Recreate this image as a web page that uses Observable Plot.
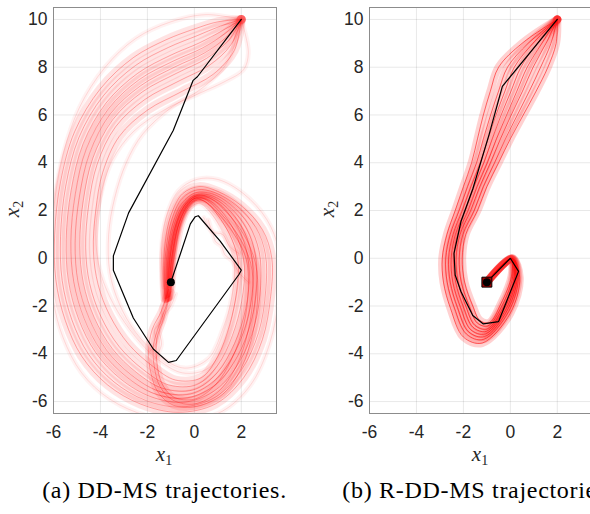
<!DOCTYPE html>
<html><head><meta charset="utf-8">
<script src="https://cdn.jsdelivr.net/npm/d3@7"></script>
<script src="https://cdn.jsdelivr.net/npm/@observablehq/plot@0.6"></script>
<style>
html,body{margin:0;padding:0;background:#fff;overflow:hidden;width:590px;height:514px;}
#root{position:relative;width:590px;height:514px;overflow:hidden;background:#fff;}
.panel{position:absolute;top:0;width:290px;height:453px;}
.lab{position:absolute;font-family:"Liberation Serif",serif;font-style:italic;font-size:21px;color:#262626;line-height:1;white-space:nowrap;}
.lab sub{font-style:normal;font-size:14px;vertical-align:-4px;}
.cap{position:absolute;font-family:"Liberation Serif",serif;font-size:24px;letter-spacing:0.7px;color:#000;white-space:nowrap;line-height:26px;top:477px;}
</style></head><body><div id="root"></div>
<script>
// ---- axis ticks ----
const xTicks = [-6, -4, -2, 0, 2];
const yTicks = [-6, -4, -2, 0, 2, 4, 6, 8, 10];
const target = [[-1, -1]];

// ---- (a) DD-MS: nominal (black) trajectory ----
const ddmsNominal = [[2,10],[0.13,7.6],[-0.05,7.45],[-0.9,5.35],[-2.8,1.9],[-3.45,0.1],[-3.45,-0.5],[-2.6,-2.5],[-1.75,-3.8],[-1.1,-4.36],[-0.77,-4.28],[1.9,-0.68],[2.0,-0.5],[1.1,0.72],[0.17,1.78],[0.04,1.74],[-0.17,1.44],[-0.6,0.17],[-1,-1]];

// ---- (a) DD-MS: sampled trajectories (red bundle, inner -> outer) ----
const ddmsTrajectories = [
 [[2,10],[1.7,8.7],[0.8,7.7],[-0.5,7.0],[-2,6.2],[-3.2,5.1],[-3.9,3.6],[-4.2,2.0],[-4.3,0.3],[-4.1,-1.1],[-3.6,-2.4],[-2.8,-3.6],[-1.8,-4.5],[-0.8,-5.1],[0.3,-5.0],[1.0,-4.1],[1.5,-2.8],[1.8,-1.4],[1.85,0],[1.5,1.0],[1.0,1.8],[0.5,2.35],[0.15,2.45],[-0.25,2.15],[-0.6,1.4],[-0.8,0.4],[-0.95,-0.6],[-1.0,-1.3],[-1.05,-1.6]],
 [[2,10],[1.56,8.94],[0.64,8.08],[-0.64,7.43],[-2.12,6.64],[-3.36,5.5],[-4.14,3.94],[-4.5,2.24],[-4.63,0.44],[-4.46,-1.06],[-3.98,-2.44],[-3.2,-3.7],[-2.18,-4.66],[-1.1,-5.3],[0.1,-5.29],[0.98,-4.5],[1.62,-3.24],[2.02,-1.8],[2.13,-0.32],[1.86,0.8],[1.38,1.68],[0.8,2.32],[0.32,2.52],[-0.16,2.32],[-0.58,1.66],[-0.84,0.68],[-1.01,-0.36],[-1.06,-1.16],[-1.09,-1.62]],
 [[2,10],[1.46,9.12],[0.52,8.37],[-0.75,7.75],[-2.21,6.97],[-3.48,5.8],[-4.32,4.2],[-4.73,2.42],[-4.88,0.55],[-4.73,-1.03],[-4.27,-2.47],[-3.5,-3.78],[-2.47,-4.78],[-1.33,-5.45],[-0.05,-5.51],[0.97,-4.8],[1.71,-3.57],[2.19,-2.1],[2.34,-0.56],[2.13,0.65],[1.67,1.59],[1.03,2.3],[0.45,2.57],[-0.09,2.45],[-0.57,1.86],[-0.87,0.89],[-1.06,-0.18],[-1.1,-1.06],[-1.12,-1.64]],
 [[2,10],[1.37,9.26],[0.42,8.59],[-0.83,8.01],[-2.28,7.23],[-3.58,6.04],[-4.46,4.4],[-4.9,2.56],[-5.08,0.63],[-4.95,-1.01],[-4.49,-2.49],[-3.74,-3.84],[-2.69,-4.88],[-1.5,-5.57],[-0.17,-5.68],[0.95,-5.04],[1.78,-3.83],[2.32,-2.34],[2.51,-0.75],[2.35,0.53],[1.89,1.52],[1.2,2.28],[0.55,2.61],[-0.04,2.55],[-0.55,2.01],[-0.89,1.06],[-1.09,-0.04],[-1.14,-0.97],[-1.14,-1.65]],
 [[2,10],[1.29,9.4],[0.34,8.8],[-0.91,8.25],[-2.35,7.48],[-3.66,6.26],[-4.6,4.59],[-5.07,2.7],[-5.26,0.71],[-5.14,-0.98],[-4.7,-2.52],[-3.96,-3.89],[-2.9,-4.96],[-1.67,-5.68],[-0.28,-5.84],[0.94,-5.26],[1.85,-4.08],[2.44,-2.56],[2.66,-0.93],[2.54,0.42],[2.1,1.45],[1.37,2.26],[0.64,2.65],[0.01,2.64],[-0.54,2.15],[-0.92,1.21],[-1.12,0.1],[-1.17,-0.89],[-1.17,-1.66]],
 [[2,10],[1.21,9.54],[0.24,9.03],[-0.99,8.51],[-2.42,7.74],[-3.76,6.5],[-4.74,4.79],[-5.25,2.84],[-5.46,0.79],[-5.36,-0.96],[-4.93,-2.54],[-4.2,-3.95],[-3.13,-5.06],[-1.85,-5.8],[-0.4,-6.02],[0.93,-5.5],[1.92,-4.34],[2.57,-2.8],[2.83,-1.12],[2.76,0.3],[2.33,1.38],[1.55,2.25],[0.75,2.7],[0.07,2.75],[-0.53,2.31],[-0.94,1.38],[-1.16,0.24],[-1.21,-0.81],[-1.19,-1.68]],
 [[2,10],[1.11,9.72],[0.12,9.32],[-1.1,8.83],[-2.51,8.07],[-3.88,6.8],[-4.92,5.05],[-5.48,3.02],[-5.7,0.9],[-5.63,-0.93],[-5.22,-2.57],[-4.5,-4.03],[-3.42,-5.18],[-2.08,-5.95],[-0.55,-6.23],[0.92,-5.8],[2.01,-4.67],[2.74,-3.1],[3.04,-1.36],[3.03,0.15],[2.62,1.29],[1.78,2.22],[0.87,2.75],[0.13,2.87],[-0.52,2.51],[-0.97,1.59],[-1.2,0.42],[-1.26,-0.7],[-1.22,-1.69]],
 [[2,10],[1.0,9.9],[0,9.6],[-1.2,9.15],[-2.6,8.4],[-4.0,7.1],[-5.1,5.3],[-5.7,3.2],[-5.95,1.0],[-5.9,-0.9],[-5.5,-2.6],[-4.8,-4.1],[-3.7,-5.3],[-2.3,-6.1],[-0.7,-6.45],[0.9,-6.1],[2.1,-5.0],[2.9,-3.4],[3.25,-1.6],[3.3,0.0],[2.9,1.2],[2.0,2.2],[1.0,2.8],[0.2,3.0],[-0.5,2.7],[-1.0,1.8],[-1.25,0.6],[-1.3,-0.6],[-1.25,-1.7]]
];

// ---- (a) DD-MS: trajectories that overshoot the target and loop again ----
const ddmsSecondLoop = [
 [[-1.0,-1.2],[-1.2,-2.0],[-1.5,-2.8],[-1.75,-3.7],[-1.7,-4.6],[-1.45,-5.4],[-0.9,-5.95],[0,-6.1],[1.0,-5.6],[1.8,-4.5],[2.3,-3.0],[2.5,-1.5],[2.4,-0.2],[1.9,0.9],[1.2,1.8],[0.5,2.45],[0.1,2.55],[-0.3,2.2],[-0.7,1.3],[-0.9,0.2],[-1.0,-0.9]],
 [[-1.1,-1.3],[-1.4,-2.2],[-1.8,-3.0],[-1.95,-3.9],[-1.85,-4.8],[-1.55,-5.6],[-0.9,-6.15],[0.1,-6.2],[1.2,-5.7],[2.0,-4.6],[2.5,-3.1],[2.7,-1.6],[2.6,-0.2],[2.1,1.0],[1.4,1.9],[0.7,2.5],[0.2,2.65],[-0.3,2.35],[-0.75,1.5],[-1.0,0.3],[-1.1,-1.0]],
 [[-1.0,-1.4],[-1.3,-2.5],[-1.6,-3.4],[-1.6,-4.3],[-1.4,-5.2],[-0.9,-5.8],[0.0,-5.9],[0.9,-5.3],[1.6,-4.2],[2.1,-2.8],[2.3,-1.3],[2.2,0.0],[1.7,1.0],[1.0,1.9],[0.4,2.4],[0.0,2.5],[-0.4,2.1],[-0.8,1.0],[-1.0,-0.3],[-1.05,-1.1]]
];

// ---- (a) DD-MS: faint outlying / noisy trajectories ----
const ddmsFaint = [
 [[2,10],[1.4,8.2],[0.3,7.1],[-1,6.3],[-2.2,5.2],[-2.9,4.0],[-3.4,2.5],[-3.65,1.0],[-3.6,-0.6],[-3.2,-1.9],[-2.5,-3.1],[-1.5,-4.1],[-0.4,-4.6],[0.6,-4.2],[1.2,-3.0],[1.6,-1.6],[1.7,-0.2],[1.3,0.9],[0.7,1.9],[0.2,2.3],[-0.3,2.0],[-0.7,1.1],[-0.9,0.0],[-1.0,-1.0]],
 [[2,10],[2.3,8.6],[2.1,7.9],[1.3,7.4],[0.2,6.9],[-1.3,6.2],[-2.6,5.3],[-3.5,4.1],[-4.0,2.6],[-4.2,1.0],[-4.0,-0.6],[-3.4,-2.0],[-2.5,-3.3],[-1.6,-4.2],[-0.5,-4.8],[0.6,-4.6],[1.3,-3.5],[1.7,-2.0],[1.9,-0.5],[1.6,0.8],[1.0,1.8],[0.4,2.4],[-0.1,2.35],[-0.5,1.6],[-0.8,0.5],[-0.95,-0.7]],
 [[2,10],[0.5,10.2],[-1,9.9],[-2.5,9.2],[-3.8,8.0],[-4.9,6.3],[-5.6,4.3],[-6.0,2.0],[-6.1,0],[-6.0,-1.8],[-5.6,-3.3],[-4.8,-4.8],[-3.6,-5.9],[-2.0,-6.6],[-0.3,-6.8],[1.2,-6.4],[2.4,-5.3],[3.2,-3.6],[3.6,-1.6],[3.6,0.3],[3.1,1.6],[2.1,2.7],[1.0,3.3],[0.1,3.3],[-0.7,2.8],[-1.2,1.7],[-1.4,0.3],[-1.3,-1.2]],
 [[2.3,-1.0],[1.9,-0.6],[1.6,-0.1],[1.3,0.15],[1.15,0.5],[0.9,0.7],[0.8,1.0],[0.6,1.3],[0.4,1.7]],
 [[1.9,0.2],[1.5,0.5],[1.2,1.0],[0.8,1.1],[0.6,1.6]],
 [[-1.1,-1.6],[-1.4,-2.1],[-1.35,-2.6],[-1.7,-3.0],[-1.6,-3.5],[-1.9,-3.9]],
 [[-0.8,-1.5],[-1.0,-2.0],[-1.3,-2.4],[-1.5,-3.0],[-1.4,-3.6],[-1.65,-4.2]]
];

// ---- (b) R-DD-MS: nominal (black) trajectory ----
const rddmsNominal = [[2,10],[-0.34,7.2],[-0.9,5.2],[-1.6,2.9],[-2.1,1.55],[-2.4,0.2],[-2.35,-0.7],[-2.1,-1.4],[-1.6,-2.4],[-1.15,-2.75],[-0.5,-2.65],[0.35,-0.55],[0,0],[-1,-1]];

// ---- (b) R-DD-MS: sampled trajectories (red bundle) ----
const rddmsTrajectories = [
 [[2,10],[1.95,9],[1.6,8],[1.1,7],[0.55,6],[0,5],[-0.5,4],[-1.0,3],[-1.4,2],[-1.9,1],[-2.05,0],[-1.95,-1],[-1.6,-2],[-1.3,-2.6],[-0.9,-2.7],[-0.4,-1.9],[0.05,-0.75],[0.02,-0.05],[-0.95,-0.95]],
 [[2,10],[1.73,9],[1.29,8],[0.81,7],[0.3,6],[-0.21,5],[-0.67,4],[-1.15,3],[-1.54,2],[-2.02,1],[-2.18,0],[-2.09,-1],[-1.74,-2.02],[-1.41,-2.71],[-0.95,-2.83],[-0.34,-1.96],[0.1,-0.76],[0.03,-0.04],[-0.97,-0.97]],
 [[2,10],[1.52,9],[0.97,8],[0.52,7],[0.04,6],[-0.42,5],[-0.85,4],[-1.3,3],[-1.69,2],[-2.14,1],[-2.31,0],[-2.22,-1],[-1.89,-2.03],[-1.51,-2.81],[-0.99,-2.96],[-0.28,-2.02],[0.16,-0.77],[0.04,-0.03],[-0.98,-0.99]],
 [[2,10],[1.34,9],[0.72,8],[0.28,7],[-0.16,6],[-0.59,5],[-0.98,4],[-1.42,3],[-1.8,2],[-2.24,1],[-2.41,0],[-2.33,-1],[-2.0,-2.04],[-1.59,-2.89],[-1.03,-3.06],[-0.23,-2.07],[0.2,-0.77],[0.05,-0.02],[-1,-1]],
 [[2,10],[1.15,9],[0.45,8],[0.03,7],[-0.39,6],[-0.77,5],[-1.13,4],[-1.55,3],[-1.92,2],[-2.34,1],[-2.52,0],[-2.45,-1],[-2.12,-2.06],[-1.69,-2.99],[-1.07,-3.17],[-0.18,-2.12],[0.24,-0.78],[0.06,-0.02],[-1.01,-1.01]],
 [[2,10],[0.96,9],[0.17,8],[-0.23,7],[-0.61,6],[-0.95,5],[-1.28,4],[-1.68,3],[-2.05,2],[-2.44,1],[-2.63,0],[-2.56,-1],[-2.25,-2.07],[-1.78,-3.08],[-1.1,-3.28],[-0.13,-2.17],[0.29,-0.78],[0.07,-0.01],[-1.02,-1.02]],
 [[2,10],[0.76,9],[-0.12,8],[-0.5,7],[-0.84,6],[-1.15,5],[-1.44,4],[-1.82,3],[-2.18,2],[-2.56,1],[-2.75,0],[-2.69,-1],[-2.38,-2.08],[-1.87,-3.17],[-1.15,-3.4],[-0.07,-2.23],[0.34,-0.79],[0.08,0],[-1.03,-1.03]],
 [[2,10],[0.5,9],[-0.5,8],[-0.85,7],[-1.15,6],[-1.4,5],[-1.65,4],[-2.0,3],[-2.35,2],[-2.7,1],[-2.9,0],[-2.85,-1],[-2.55,-2.1],[-2.0,-3.3],[-1.2,-3.55],[0.0,-2.3],[0.4,-0.8],[0.08,0],[-1.04,-1.04]]
];

// ---- captions ----
const captions = ["(a) DD-MS trajectories.", "(b) R-DD-MS trajectories."];

const toRows = (trajs) => trajs.flatMap((t, i) => t.map(([x, y]) => ({id: i, x, y})));
const toPts = (arr) => arr.map(([x, y]) => ({x, y}));

function bundle(rows, wide, wideOp, thin, thinOp) {
  return [
    Plot.line(rows, {x: "x", y: "y", z: "id", curve: "catmull-rom", stroke: "#ff0000", strokeWidth: wide, strokeOpacity: wideOp, clip: true}),
    Plot.line(rows, {x: "x", y: "y", z: "id", curve: "catmull-rom", stroke: "#ff0000", strokeWidth: thin, strokeOpacity: thinOp, clip: true})
  ];
}

function panel(layers, nominal, square) {
  return Plot.plot({
    width: 290, height: 453,
    marginLeft: 53, marginRight: 14, marginTop: 7, marginBottom: 40,
    x: {domain: [-6, 3.5], label: null},
    y: {domain: [-6.5, 10.5], label: null},
    style: {fontFamily: "'Liberation Sans', Arial, sans-serif", fontSize: "17.5px", color: "#262626", background: "transparent"},
    marks: [
      Plot.gridX({ticks: xTicks, stroke: "#000", strokeOpacity: 0.09}),
      Plot.gridY({ticks: yTicks, stroke: "#000", strokeOpacity: 0.09}),
      ...layers,
      Plot.line(toPts(nominal), {x: "x", y: "y", stroke: "#000", strokeWidth: 1.2}),
      square ? Plot.dot(toPts(target), {x: "x", y: "y", symbol: "square", r: 5.6, stroke: "#000", strokeWidth: 1, fill: "#a80000"}) : null,
      Plot.dot(toPts(target), {x: "x", y: "y", r: 4, fill: "#000"}),
      Plot.frame({stroke: "#8c8c8c"}),
      Plot.axisX({ticks: xTicks, tickSize: 0, tickPadding: 12, tickFormat: d => String(d), label: null}),
      Plot.axisY({ticks: yTicks, tickSize: 0, tickPadding: 6, tickFormat: d => String(d), label: null})
    ]
  });
}

const root = document.getElementById("root");

const left = panel([
  ...bundle(toRows(ddmsFaint), 5, 0.05, 0.6, 0.2),
  ...bundle(toRows(ddmsTrajectories), 9, 0.11, 0.8, 0.38),
  ...bundle(toRows(ddmsSecondLoop), 7, 0.11, 0.8, 0.38)
], ddmsNominal, false);
const right = panel([
  ...bundle(toRows(rddmsTrajectories), 8, 0.18, 1, 0.55)
], rddmsNominal, true);

function addPanel(svg, x) {
  const d = document.createElement("div");
  d.className = "panel";
  d.style.left = x + "px";
  d.appendChild(svg);
  root.appendChild(d);
}
addPanel(left, 0);
addPanel(right, 316);

function addLabel(html, cx, cy, rot) {
  const d = document.createElement("div");
  d.className = "lab";
  d.innerHTML = html;
  d.style.left = cx + "px";
  d.style.top = cy + "px";
  d.style.transform = "translate(-50%,-50%)" + (rot ? " rotate(-90deg)" : "");
  root.appendChild(d);
}
addLabel("x<sub>2</sub>", 14, 209, true);
addLabel("x<sub>1</sub>", 164, 456, false);
addLabel("x<sub>2</sub>", 329, 209, true);
addLabel("x<sub>1</sub>", 480, 456, false);

function addCaption(text, cx) {
  const d = document.createElement("div");
  d.className = "cap";
  d.textContent = text;
  d.style.left = cx + "px";
  d.style.transform = "translateX(-50%)";
  root.appendChild(d);
}
addCaption(captions[0], 164.5);
addCaption(captions[1], 478);
</script></body></html>
